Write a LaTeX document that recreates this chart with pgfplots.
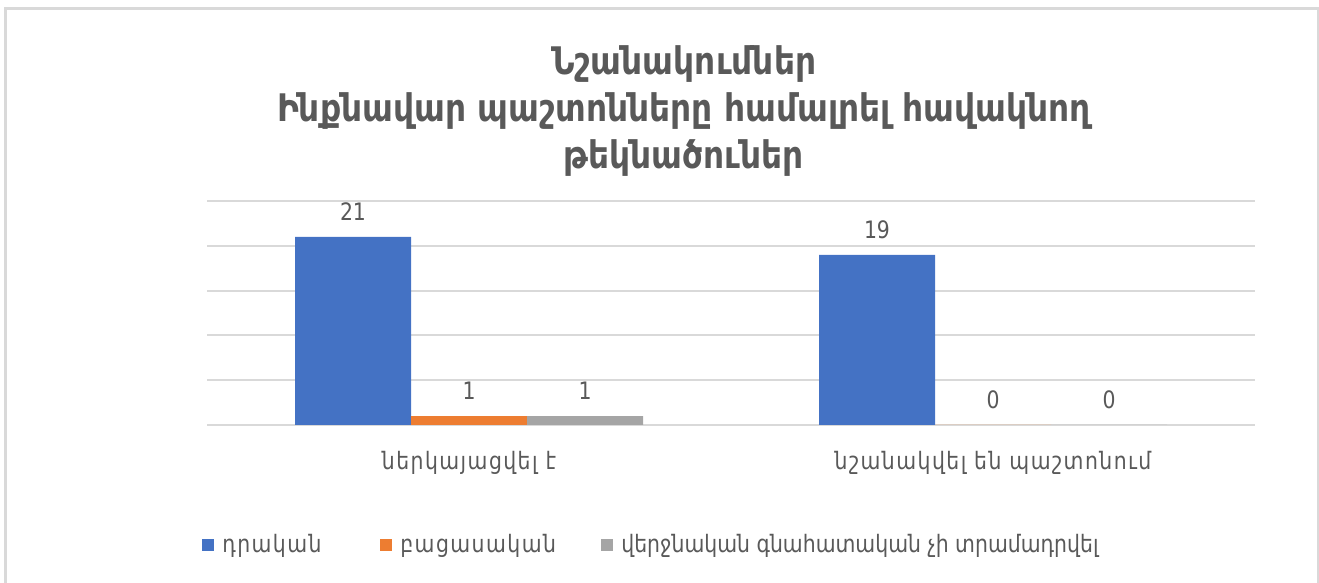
\documentclass[border=0pt]{standalone}
\usepackage{fontspec}
\usepackage{pgfplots}
\pgfplotsset{compat=1.18}
\setmainfont{DejaVu Sans}[FakeStretch=0.85]
\newfontfamily\titlefont{DejaVu Sans}[FakeStretch=0.865]
\newfontfamily\legfont{DejaVu Sans}[FakeStretch=0.85, LetterSpace=6]
\newfontfamily\plainfont{DejaVu Sans}[FakeStretch=0.85]
\definecolor{cblue}{HTML}{4472C4}
\definecolor{corange}{HTML}{ED7D31}
\definecolor{cgray}{HTML}{A5A5A5}
\definecolor{txt}{HTML}{595959}
\definecolor{gridc}{HTML}{D9D9D9}
\begin{document}
\begin{tikzpicture}
\path[use as bounding box] (0,0) rectangle (659.5pt,291.5pt);
\draw[gridc, line width=1.5pt] (2.5pt,0) -- (2.5pt,287pt) -- (659pt,287pt) -- (659pt,0);
\begin{axis}[
  at={(103.5pt,79pt)}, anchor=south west,
  width=524pt, height=112pt, scale only axis,
  xmin=-0.5, xmax=1.5, ymin=0, ymax=25,
  ybar=0pt, bar width=58pt,
  axis line style={draw=none},
  ymajorgrids, grid style={gridc, line width=1pt},
  ytick={0,5,10,15,20,25}, yticklabels={},
  xtick={0,1},
  xticklabels={ներկայացվել է, նշանակվել են պաշտոնում},
  major tick length=0pt,
  xticklabel style={font=\legfont\fontsize{12}{14}\selectfont, text=txt, inner sep=0pt, yshift=-13pt},
  nodes near coords,
  every node near coord/.append style={font=\fontsize{12}{14}\selectfont, text=txt, inner sep=0pt, yshift=8pt},
  /pgf/number format/assume math mode=true,
  title={Նշանակումներ\\Ինքնավար պաշտոնները համալրել հավակնող\\թեկնածուներ},
  title style={at={(axis description cs:0.455,1.348)}, anchor=center, align=center,
    font=\titlefont\bfseries\fontsize{19}{23.5}\selectfont, text=txt},
  legend style={at={(axis description cs:-0.0048,-0.536)}, anchor=west,
    legend columns=3, draw=none, fill=none, inner sep=0pt,
    font=\legfont\fontsize{12}{14}\selectfont, text=txt, nodes={inner sep=0pt},
    /tikz/every odd column/.append style={column sep=4pt},
    /tikz/every even column/.append style={column sep=0pt}},
  legend image code/.code={\path[#1] (0pt,-3pt) rectangle (6pt,3pt);},
]
\addplot[fill=cblue, draw=none] coordinates {(0,21) (1,19)};
\addplot[fill=corange, draw=none] coordinates {(0,1) (1,0)};
\addplot[fill=cgray, draw=none] coordinates {(0,1) (1,0)};
\legend{\makebox[79pt][l]{դրական}, \makebox[100.5pt][l]{բացասական}, {\plainfont վերջնական գնահատական չի տրամադրվել}}
\end{axis}
\end{tikzpicture}
\end{document}
